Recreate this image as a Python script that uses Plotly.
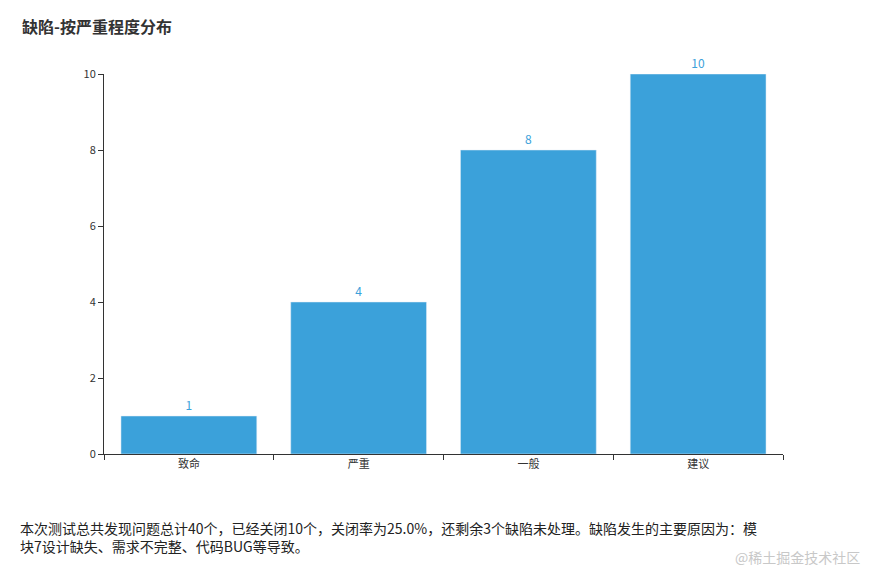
import plotly.graph_objects as go

categories = ["致命", "严重", "一般", "建议"]
counts = [1, 4, 8, 10]
y_ticks = [0, 2, 4, 6, 8, 10]

bar_color = "#3ba1da"
summary = ("本次测试总共发现问题总计40个，已经关闭10个，关闭率为25.0%，还剩余3个缺陷未处理。缺陷发生的主要原因为：模"
           "<br>块7设计缺失、需求不完整、代码BUG等导致。")

fig = go.Figure(go.Bar(
    x=categories, y=counts, marker_color=bar_color, width=0.8,
    text=counts, textposition="outside", textfont=dict(color=bar_color, size=12),
    cliponaxis=False,
))

fig.update_layout(
    width=876, height=564,
    margin=dict(l=96, r=101, t=66, b=118),
    paper_bgcolor="white", plot_bgcolor="white",
    font=dict(family="Noto Sans CJK SC", color="#333", size=12),
    showlegend=False,
    title=dict(text="<b>缺陷-按严重程度分布</b>", x=0.016, xanchor="left", y=0.966,
               yanchor="middle", font=dict(size=16, color="#333")),
    xaxis=dict(showline=True, linecolor="#333", ticks="outside", tickson="boundaries",
               ticklen=5, tickcolor="#333", tickfont=dict(size=11)),
    yaxis=dict(range=[0, 10], tickvals=y_ticks, showline=True, linecolor="#333",
               ticks="outside", ticklen=5, tickcolor="#333", showgrid=False,
               zeroline=False, tickfont=dict(size=11)),
    annotations=[
        dict(text=summary, xref="paper", yref="paper", x=-0.127, y=-0.163, xanchor="left",
             yanchor="top", align="left", showarrow=False,
             font=dict(size=14, color="#222")),
        dict(text="@稀土掘金技术社区", xref="paper", yref="paper", x=1.116, y=-0.24,
             xanchor="right", yanchor="top", showarrow=False,
             font=dict(size=14, color="#c8c8c8")),
    ],
)

fig.write_html("out.html")
